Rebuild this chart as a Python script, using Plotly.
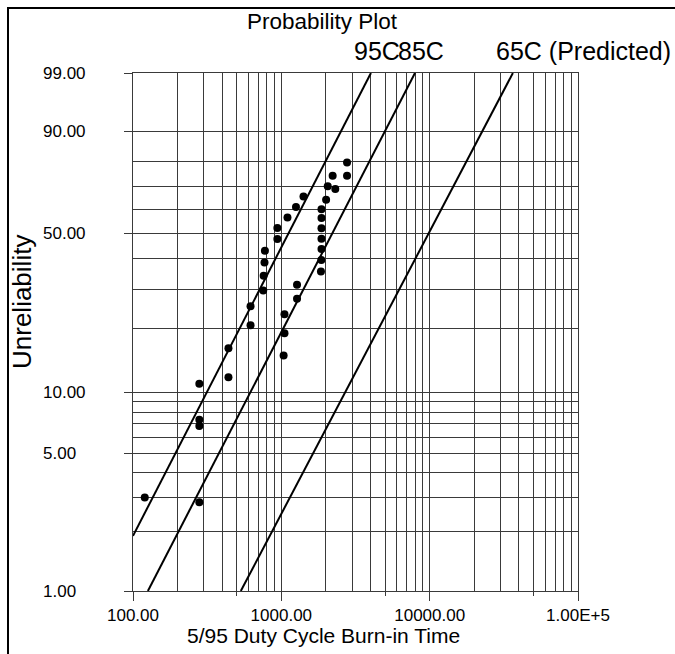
import numpy as np
import plotly.graph_objects as go

# ---------------- data ----------------
# 95C test group (time, unreliability %)
t_95 = [120, 280, 280, 280, 440, 440, 620, 620, 755, 760, 770, 775, 940, 940, 1100, 1255, 1410]
F_95 = [2.99, 6.84, 7.33, 11.0, 11.85, 16.27, 20.76, 25.28, 29.62, 34.18, 38.69, 43.0,
        47.6, 52.1, 56.5, 61.1, 65.6]

# 85C test group
t_85 = [280, 1036, 1050, 1050, 1276, 1276, 1850, 1860, 1865, 1865, 1865, 1865, 1865,
        2004, 2055, 2218, 2311, 2773, 2773]
F_85 = [2.83, 15.03, 19.12, 23.34, 27.28, 31.32, 35.6, 39.6, 43.65, 47.7, 52.05, 56.3,
        60.1, 64.2, 70.05, 74.5, 68.84, 74.5, 79.8]

# fitted Weibull lines (end points on the probability paper)
line_95_t = [100, 4018]
line_95_F = [1.91, 99]
line_85_t = [126, 7960]
line_85_F = [1, 99]
line_65_t = [533, 36400]
line_65_F = [1, 99]

line_names = ["95C", "85C", "65C (Predicted)"]

# axis ticks
y_major_vals = [1, 5, 10, 50, 90, 99]
y_major_text = ["1.00", "5.00", "10.00", "50.00", "90.00", "99.00"]
y_minor_vals = [2, 3, 4, 6, 7, 8, 9, 20, 30, 40, 60, 70, 80]
x_major_vals = [100, 1000, 10000, 100000]
x_major_text = ["100.00", "1000.00", "10000.00", "1.00E+5"]
x_minor_vals = [m * d for d in (100, 1000, 10000) for m in range(2, 10)]
x_mid_vals = [500, 5000, 50000]


def wb(p):
    """Weibull probability-paper transform of a percentage."""
    p = np.asarray(p, dtype=float) / 100.0
    return np.log(-np.log(1.0 - p))


FONT = "Liberation Sans, Arial, sans-serif"
GRID = "#3a3a3a"

fig = go.Figure()

line_style = dict(color="black", width=2)
for name, tt, ff in zip(line_names,
                        [line_95_t, line_85_t, line_65_t],
                        [line_95_F, line_85_F, line_65_F]):
    fig.add_trace(go.Scatter(x=tt, y=wb(ff), mode="lines", line=line_style,
                             name=name, showlegend=False, hoverinfo="skip"))

marker_style = dict(color="black", size=8)
fig.add_trace(go.Scatter(x=t_95, y=wb(F_95), mode="markers", marker=marker_style,
                         name="95C data", showlegend=False))
fig.add_trace(go.Scatter(x=t_85, y=wb(F_85), mode="markers", marker=marker_style,
                         name="85C data", showlegend=False))
# helper trace so the secondary tick axis is drawn
fig.add_trace(go.Scatter(x=[], y=[], xaxis="x2", showlegend=False))

ymin, ymax = float(wb(1)), float(wb(99))

fig.update_layout(
    width=675, height=654,
    margin=dict(l=133, r=97, t=73, b=63),
    paper_bgcolor="white", plot_bgcolor="white",
    font=dict(family=FONT, color="black"),
    title=dict(text="Probability Plot", x=322 / 675, xanchor="center",
               y=1 - 21 / 654, yanchor="middle", xref="container", yref="container",
               font=dict(size=22.5, family=FONT, color="black")),
    xaxis=dict(type="log", range=[2, 5], tickmode="array",
               tickvals=x_major_vals, ticktext=x_major_text,
               ticks="outside", ticklen=9, tickcolor=GRID, tickwidth=1,
               showgrid=True, gridcolor=GRID, gridwidth=1,
               showline=True, linecolor=GRID, linewidth=1, mirror=True,
               tickfont=dict(size=17, family=FONT, color="black"),
               minor=dict(tickmode="array", tickvals=x_minor_vals, showgrid=True,
                          gridcolor=GRID, gridwidth=1, ticks=""),
               zeroline=False),
    xaxis2=dict(type="log", range=[2, 5], overlaying="x", anchor="y", side="bottom",
                tickmode="array", tickvals=x_mid_vals, showticklabels=False,
                ticks="outside", ticklen=4, tickcolor=GRID, showgrid=False,
                showline=False, zeroline=False),
    yaxis=dict(range=[ymin, ymax], tickmode="array",
               tickvals=list(wb(y_major_vals)), showticklabels=False,
               ticks="outside", ticklen=8, tickcolor=GRID, tickwidth=1,
               showgrid=True, gridcolor=GRID, gridwidth=1,
               showline=True, linecolor=GRID, linewidth=1, mirror=True,
               minor=dict(tickmode="array", tickvals=list(wb(y_minor_vals)), showgrid=True,
                          gridcolor=GRID, gridwidth=1, ticks=""),
               zeroline=False),
    showlegend=False,
)

annotations = []
# y tick labels: left-aligned column, placed through the y axis scale
for v, txt in zip(wb(y_major_vals), y_major_text):
    annotations.append(dict(text=txt, x=(41 - 133) / 445, y=float(v), xref="paper", yref="y",
                            xanchor="left", yanchor="middle", showarrow=False,
                            font=dict(size=17, family=FONT, color="black")))

for name, tt in zip(line_names, [line_95_t, line_85_t, line_65_t]):
    annotations.append(dict(text=name, x=float(np.log10(tt[-1])), y=ymax, xref="x", yref="y",
                            xanchor="left", yanchor="bottom", xshift=-19, yshift=6,
                            showarrow=False, font=dict(size=25, family=FONT, color="black")))

annotations.append(dict(text="Unreliability", x=(22 - 133) / 445, y=(591 - 302) / 518,
                        xref="paper", yref="paper", textangle=-90, showarrow=False,
                        xanchor="center", yanchor="middle",
                        font=dict(size=26, family=FONT, color="black")))
annotations.append(dict(text="5/95 Duty Cycle Burn-in Time", x=(323 - 133) / 445,
                        y=(591 - 635) / 518, xref="paper", yref="paper", showarrow=False,
                        xanchor="center", yanchor="middle",
                        font=dict(size=21, family=FONT, color="black")))
fig.update_layout(annotations=annotations)

# outer frame of the original chart (extends beyond the image on the right/bottom)
fig.add_shape(type="rect", xref="paper", yref="paper",
              x0=(8 - 133) / 445, x1=(690 - 133) / 445,
              y0=(591 - 670) / 518, y1=(591 - 8) / 518,
              line=dict(color="black", width=2), fillcolor="rgba(0,0,0,0)", layer="below")

fig.write_html("out.html", config={"displayModeBar": False},
               post_script="document.body.style.margin='0';")
